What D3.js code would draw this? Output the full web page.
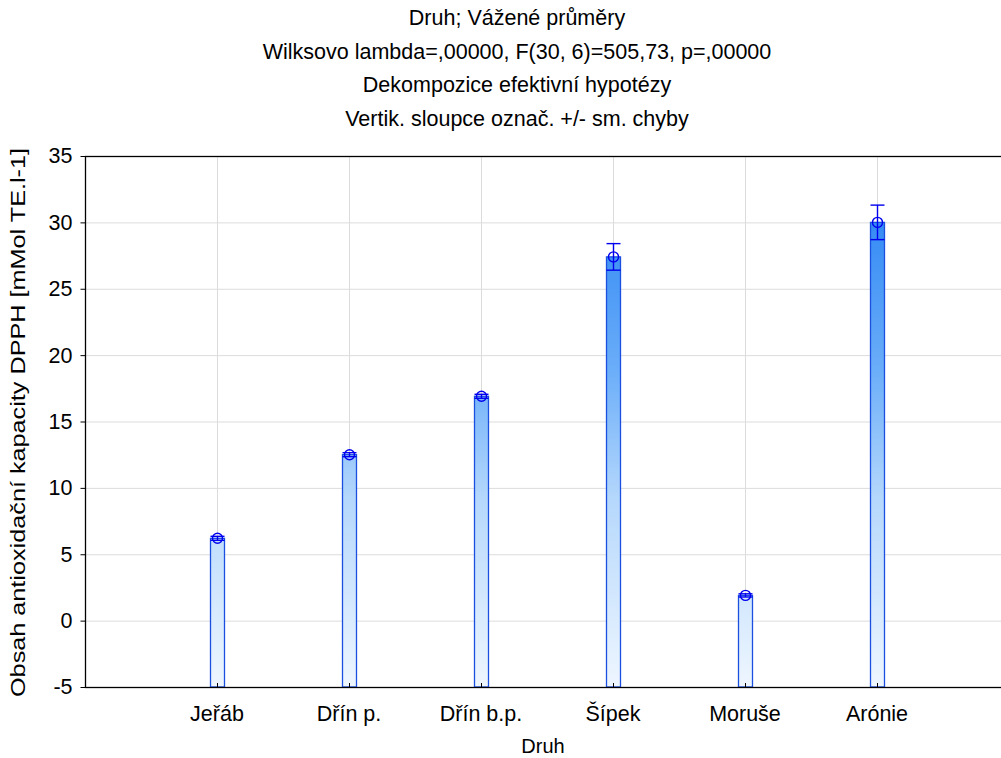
<!DOCTYPE html>
<html>
<head>
<meta charset="utf-8">
<script src="https://cdn.jsdelivr.net/npm/d3@7"></script>
<style>
  html, body { margin: 0; padding: 0; background: #fff; }
  svg { display: block; font-family: "Liberation Sans", Arial, sans-serif; }
</style>
</head>
<body>
<svg id="chart" width="1001" height="758"></svg>
<script>
// Weighted means of DPPH antioxidant capacity by species, with +/- standard error
const categories = ["Jeřáb", "Dřín p.", "Dřín b.p.", "Šípek", "Moruše", "Arónie"];
const means = [6.2, 12.5, 16.9, 27.4, 1.9, 30.0];
const stdErrors = [0.15, 0.15, 0.15, 1.0, 0.12, 1.3];
const yTicks = [-5, 0, 5, 10, 15, 20, 25, 30, 35];
const titleLines = [
  "Druh; Vážené průměry",
  "Wilksovo lambda=,00000, F(30, 6)=505,73, p=,00000",
  "Dekompozice efektivní hypotézy",
  "Vertik. sloupce označ. +/- sm. chyby"
];
const xTitle = "Druh";
const yTitle = "Obsah antioxidační kapacity DPPH [mMol TE.l-1]";

const svg = d3.select("#chart");
const plot = { left: 85, top: 156, right: 1009, bottom: 687 };

const x = d3.scaleLinear().domain([0, categories.length + 1]).range([plot.left, plot.right]);
const y = d3.scaleLinear().domain([-5, 35]).range([plot.bottom, plot.top]);

// vertical gradient across the value range: pale at the bottom, saturated at the top
const defs = svg.append("defs");
const grad = defs.append("linearGradient")
  .attr("id", "barFill")
  .attr("gradientUnits", "userSpaceOnUse")
  .attr("x1", 0).attr("x2", 0)
  .attr("y1", y(-5)).attr("y2", y(35));
grad.append("stop").attr("offset", "0%").attr("stop-color", "#eef6ff");
grad.append("stop").attr("offset", "35%").attr("stop-color", "#b6d8fc");
grad.append("stop").attr("offset", "60%").attr("stop-color", "#6aadf9");
grad.append("stop").attr("offset", "100%").attr("stop-color", "#1e7cf2");

defs.append("clipPath").attr("id", "plotClip")
  .append("rect")
  .attr("x", plot.left).attr("y", plot.top)
  .attr("width", plot.right - plot.left).attr("height", plot.bottom - plot.top);

// titles
svg.append("g").selectAll("text").data(titleLines).join("text")
  .attr("x", 517)
  .attr("y", (d, i) => 25 + i * 33.5)
  .attr("text-anchor", "middle")
  .attr("font-size", 21.5)
  .attr("fill", "#000")
  .text(d => d);

const g = svg.append("g").attr("clip-path", "url(#plotClip)");

// grid
g.append("g").selectAll("line").data(yTicks).join("line")
  .attr("x1", plot.left).attr("x2", plot.right)
  .attr("y1", d => y(d) + 0.5).attr("y2", d => y(d) + 0.5)
  .attr("stroke", "#dcdcdc").attr("stroke-width", 1);
g.append("g").selectAll("line").data(categories).join("line")
  .attr("x1", (d, i) => Math.round(x(i + 1)) + 0.5).attr("x2", (d, i) => Math.round(x(i + 1)) + 0.5)
  .attr("y1", plot.top).attr("y2", plot.bottom)
  .attr("stroke", "#dcdcdc").attr("stroke-width", 1);

// bars
const barW = 14;
g.append("g").selectAll("rect").data(means).join("rect")
  .attr("x", (d, i) => Math.round(x(i + 1)) - barW / 2 + 0.5)
  .attr("y", d => y(d))
  .attr("width", barW)
  .attr("height", d => y(-5) - y(d))
  .attr("fill", "url(#barFill)")
  .attr("stroke", "#1a4fe0")
  .attr("stroke-width", 1.3);

// small category ticks on the bottom axis
g.append("g").selectAll("line").data(categories).join("line")
  .attr("x1", (d, i) => Math.round(x(i + 1)) + 0.5).attr("x2", (d, i) => Math.round(x(i + 1)) + 0.5)
  .attr("y1", plot.bottom - 4).attr("y2", plot.bottom)
  .attr("stroke", "#000").attr("stroke-width", 1);

// error bars and mean markers
const eg = g.append("g").attr("stroke", "#0000ee").attr("fill", "none").attr("stroke-width", 1.4);
means.forEach((m, i) => {
  const cx = Math.round(x(i + 1)) + 0.5;
  const lo = m - stdErrors[i], hi = m + stdErrors[i];
  eg.append("line").attr("x1", cx).attr("x2", cx).attr("y1", y(lo)).attr("y2", y(hi));
  eg.append("line").attr("x1", cx - 7).attr("x2", cx + 7).attr("y1", y(lo)).attr("y2", y(lo));
  eg.append("line").attr("x1", cx - 7).attr("x2", cx + 7).attr("y1", y(hi)).attr("y2", y(hi));
  eg.append("circle").attr("cx", cx).attr("cy", y(m)).attr("r", 5);
});

// frame
svg.append("rect")
  .attr("x", plot.left + 0.5).attr("y", plot.top + 0.5)
  .attr("width", plot.right - plot.left).attr("height", plot.bottom - plot.top)
  .attr("fill", "none").attr("stroke", "#000").attr("stroke-width", 1.3);

// y axis
const yAxis = svg.append("g")
  .attr("transform", `translate(${plot.left + 0.5},0)`)
  .call(d3.axisLeft(y).tickValues(yTicks).tickSize(5).tickPadding(8).tickFormat(d3.format("d")));
yAxis.select(".domain").remove();
yAxis.selectAll("text").attr("font-size", 21.5).attr("fill", "#000")
  .attr("font-family", "Liberation Sans, Arial, sans-serif")
  .text(d => String(d));
yAxis.selectAll("line").attr("stroke", "#000");

// x labels
svg.append("g").selectAll("text").data(categories).join("text")
  .attr("x", (d, i) => x(i + 1))
  .attr("y", 721)
  .attr("text-anchor", "middle")
  .attr("font-size", 21.5)
  .attr("fill", "#000")
  .text(d => d);

// axis titles
svg.append("text")
  .attr("x", 543).attr("y", 753)
  .attr("text-anchor", "middle")
  .attr("font-size", 20)
  .text(xTitle);
svg.append("text")
  .attr("transform", `translate(25,${(plot.top + plot.bottom) / 2 + 1}) rotate(-90)`)
  .attr("text-anchor", "middle")
  .attr("font-size", 19.5)
  .attr("textLength", 549)
  .attr("lengthAdjust", "spacingAndGlyphs")
  .text(yTitle);
</script>
</body>
</html>
